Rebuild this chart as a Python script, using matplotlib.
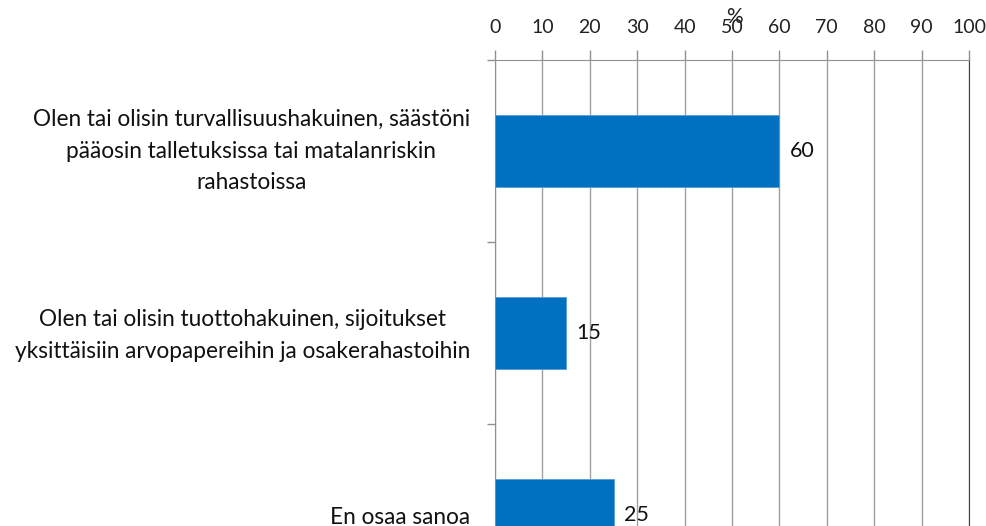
import matplotlib
matplotlib.use("Agg")
import matplotlib.pyplot as plt
import matplotlib.transforms as mtransforms
import numpy as np

plt.rcParams['font.family'] = ['Lato', 'DejaVu Sans']

categories = [
    "Olen tai olisin turvallisuushakuinen, säästöni\npääosin talletuksissa tai matalanriskin\nrahastoissa",
    "Olen tai olisin tuottohakuinen, sijoitukset\nyksittäisiin arvopapereihin ja osakerahastoihin",
    "En osaa sanoa",
]
values = [60, 15, 25]
xticks = list(range(0, 101, 10))
xlabel = "%"

W, H = 987, 526
fig = plt.figure(figsize=(W / 100, H / 100), dpi=100)
left, right = 495 / W, 969 / W
top_px, bottom_px = 60, 606
ax = fig.add_axes([left, 1 - bottom_px / H, right - left, (bottom_px - top_px) / H])

y = np.arange(len(categories))
ax.barh(y, values, height=0.4, color='#0070C0', edgecolor='#5b9bd5', linewidth=0.6, zorder=3)
ax.set_ylim(len(categories) - 0.5, -0.5)
ax.set_xlim(0, 100)

ax.xaxis.tick_top()
ax.set_xticks(xticks)
ax.set_xticklabels([str(t) for t in xticks], fontsize=14, color='#222222')
ax.tick_params(axis='x', direction='out', length=7, width=1, color='#909090', pad=10)
ax.grid(axis='x', color='#a0a0a0', linewidth=1, zorder=0)

ax.set_yticks(np.arange(len(categories) + 1) - 0.5, minor=False)
ax.set_yticklabels([''] * (len(categories) + 1))
ax.set_yticks(y, minor=True)
ax.set_yticklabels(categories, minor=True, fontsize=16.3, color='#111111',
                   ha='right', multialignment='center', linespacing=1.62)
ax.tick_params(axis='y', which='major', direction='out', length=6, width=1, color='#909090')
ax.tick_params(axis='y', which='minor', length=0, pad=18)
shifts_px = [7, 5, 0]
for lab, s in zip(ax.get_yticklabels(minor=True), shifts_px):
    lab.set_transform(lab.get_transform() + mtransforms.ScaledTranslation(0, s / 100, fig.dpi_scale_trans))

ax.spines['bottom'].set_visible(False)
ax.spines['left'].set_color('#909090')
ax.spines['top'].set_color('#909090')
ax.spines['right'].set_color('#404040')

for yi, v in zip(y, values):
    ax.text(v + 2.2, yi, str(v), va='center', ha='left', fontsize=15.5, color='#111111')

fig.text(734 / W, 1 - 17 / H, xlabel, ha='center', va='center', fontsize=15, color='#222222')

fig.savefig('out.png', dpi=100)
